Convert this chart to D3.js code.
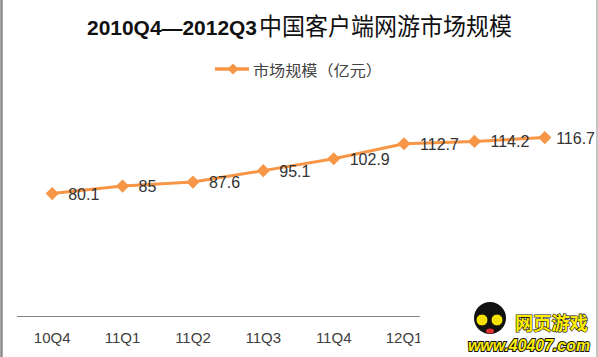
<!DOCTYPE html>
<html><head><meta charset="utf-8">
<script src="https://cdn.jsdelivr.net/npm/d3@7"></script>
<style>
html,body{margin:0;padding:0;background:#fff;}
svg{display:block;}
</style></head>
<body>
<svg id="chart" width="598" height="357"></svg>
<script>
const titleLatin = "2010Q4—2012Q3";
const titleCJK = "中国客户端网游市场规模";
const seriesName = "市场规模（亿元）";
const categories = ["10Q4","11Q1","11Q2","11Q3","11Q4","12Q1","12Q2","12Q3"];
const values = [80.1, 85, 87.6, 95.1, 102.9, 112.7, 114.2, 116.7];
const watermarkTop = "网页游戏";
const watermarkBottom = "www.40407.com";

const W = 598, H = 357;
const svg = d3.select("#chart");
const orange = "#F79646";
const latinFont = "'Liberation Sans', Arial, sans-serif";
const cjkFont = "'Noto Sans CJK SC', sans-serif";
const wmLeft = 420;

// frame
svg.append("line").attr("x1",1.5).attr("x2",1.5).attr("y1",0).attr("y2",H)
  .attr("stroke","#8a8a8a").attr("stroke-width",2.5);
svg.append("line").attr("x1",597).attr("x2",597).attr("y1",0).attr("y2",H)
  .attr("stroke","#b0b0b0").attr("stroke-width",1.5);

// title
svg.append("text").attr("x",87).attr("y",35)
  .attr("font-family",latinFont).attr("font-weight","bold").attr("font-size",21)
  .attr("fill","#111").attr("textLength",170).attr("lengthAdjust","spacingAndGlyphs")
  .text(titleLatin);
svg.append("text").attr("x",259).attr("y",35)
  .attr("font-family",cjkFont).attr("font-size",24)
  .attr("fill","#111").attr("textLength",253).attr("lengthAdjust","spacingAndGlyphs")
  .text(titleCJK);

// legend
const lg = svg.append("g");
lg.append("line").attr("x1",215).attr("x2",249).attr("y1",69).attr("y2",69)
  .attr("stroke",orange).attr("stroke-width",3.5);
lg.append("path").attr("transform","translate(233,69)")
  .attr("d",d3.symbol(d3.symbolDiamond2, 80)()).attr("fill",orange);
lg.append("text").attr("x",253).attr("y",76)
  .attr("font-family",cjkFont).attr("font-size",15).attr("fill","#444")
  .attr("textLength",129).attr("lengthAdjust","spacingAndGlyphs")
  .text(seriesName);

// scales
const x = d3.scaleBand().domain(categories).range([17, 580]).padding(0);
const y = d3.scaleLinear().domain([0, 140]).range([316, 102]);
const cx = d => x(d) + x.bandwidth()/2;

// x axis baseline
svg.append("line").attr("x1",x.range()[0]).attr("x2",x.range()[1])
  .attr("y1",y(0)+0.5).attr("y2",y(0)+0.5)
  .attr("stroke","#868686").attr("stroke-width",1.2);

// x axis
const xAxis = d3.axisBottom(x).tickSize(0).tickPadding(0);
const ax = svg.append("g").attr("transform",`translate(0,${y(0)})`).call(xAxis);
ax.select(".domain").remove();
ax.selectAll(".tick text").attr("font-family",latinFont).attr("font-size",15)
  .attr("fill","#404040").attr("dy",null).attr("y",27);
ax.selectAll(".tick").filter(d => cx(d) > wmLeft).select("text").remove();

// line
const pts = categories.map((c,i)=>({c, v: values[i]}));
svg.append("path").datum(pts)
  .attr("fill","none").attr("stroke",orange).attr("stroke-width",3)
  .attr("stroke-linejoin","round")
  .attr("d", d3.line().x(d=>cx(d.c)).y(d=>y(d.v)));

svg.selectAll(".mk").data(pts).join("path").attr("class","mk")
  .attr("transform",d=>`translate(${cx(d.c)},${y(d.v)})`)
  .attr("d",d3.symbol(d3.symbolDiamond2, 110)()).attr("fill",orange);

// data labels
const labels = svg.selectAll(".lbl").data(pts).join("text").attr("class","lbl")
  .attr("font-family",latinFont).attr("font-size",16).attr("fill","#333")
  .attr("y",d=>y(d.v)+6)
  .text(d=>String(d.v));
labels.each(function(d){
  const w = this.getComputedTextLength();
  let lx = cx(d.c) + 16;
  if (lx + w > W - 3) lx = W - 3 - w;
  d3.select(this).attr("x", lx);
});

// watermark (covers right part of axis)
const wm = svg.append("g");
wm.append("rect").attr("x",wmLeft).attr("y",284).attr("width",176).attr("height",73).attr("fill","#fff");
wm.append("circle").attr("cx",490).attr("cy",318).attr("r",16).attr("fill","#111");
wm.append("circle").attr("cx",482).attr("cy",320).attr("r",6).attr("fill","#f5e000").attr("stroke","#111");
wm.append("circle").attr("cx",497).attr("cy",320).attr("r",6).attr("fill","#f5e000").attr("stroke","#111");
wm.append("ellipse").attr("cx",490).attr("cy",331).attr("rx",4).attr("ry",2.5).attr("fill","#e03030");
wm.append("text").attr("x",515).attr("y",330)
  .attr("font-family",cjkFont).attr("font-weight","bold").attr("font-size",18)
  .attr("fill","#ffee00").attr("stroke","#111").attr("stroke-width",1.2).attr("paint-order","stroke")
  .attr("textLength",73).attr("lengthAdjust","spacingAndGlyphs")
  .text(watermarkTop);
wm.append("text").attr("x",468).attr("y",351)
  .attr("font-family",latinFont).attr("font-weight","bold").attr("font-style","italic").attr("font-size",17)
  .attr("fill","#ffee00").attr("stroke","#111").attr("stroke-width",2).attr("paint-order","stroke")
  .attr("textLength",122).attr("lengthAdjust","spacingAndGlyphs")
  .text(watermarkBottom);
</script>
</body></html>
